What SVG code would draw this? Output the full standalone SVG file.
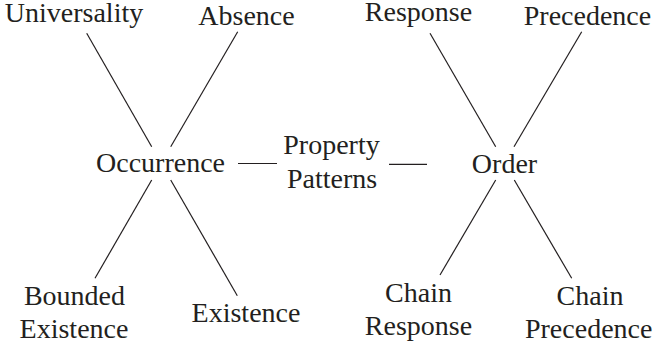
<svg xmlns="http://www.w3.org/2000/svg" width="655" height="349" viewBox="0 0 655 349">
<style>
text{font-family:"Liberation Serif","Times New Roman",serif;font-size:28px;fill:#231f20;text-anchor:middle}
line{stroke:#231f20;stroke-width:1.2}
</style>
<rect width="655" height="349" fill="#fff"/>
<g id="connectors">
<line x1="86.7" y1="33.3" x2="151.7" y2="146.7"/>
<line x1="237.7" y1="31.7" x2="170.7" y2="146.7"/>
<line x1="151.7" y1="180" x2="95" y2="278.3"/>
<line x1="170.7" y1="180" x2="237.3" y2="295.7"/>
<line x1="238" y1="163.5" x2="277" y2="163.5"/>
<line x1="389" y1="164.3" x2="427" y2="164.3"/>
<line x1="430" y1="33.3" x2="495.7" y2="146.7"/>
<line x1="581.7" y1="31.7" x2="514" y2="146.7"/>
<line x1="495.7" y1="180" x2="440" y2="275"/>
<line x1="514.3" y1="180" x2="571.7" y2="278.3"/>
</g>
<g id="universality"><text x="74" y="21.7">Universality</text></g>
<g id="absence"><text x="246.5" y="25">Absence</text></g>
<g id="response"><text x="418.5" y="20.7">Response</text></g>
<g id="precedence"><text x="587.5" y="25">Precedence</text></g>
<g id="occurrence"><text x="160.5" y="171.7">Occurrence</text></g>
<g id="property-patterns"><text x="331.5" y="154.3">Property</text><text x="332" y="188.3">Patterns</text></g>
<g id="order"><text x="504.5" y="172.7">Order</text></g>
<g id="bounded-existence"><text x="74.5" y="305">Bounded</text><text x="74" y="338.3">Existence</text></g>
<g id="existence"><text x="246" y="321.7">Existence</text></g>
<g id="chain-response"><text x="418.5" y="301.7">Chain</text><text x="418.5" y="335">Response</text></g>
<g id="chain-precedence"><text x="590" y="305">Chain</text><text x="588.7" y="338.3">Precedence</text></g>
</svg>
